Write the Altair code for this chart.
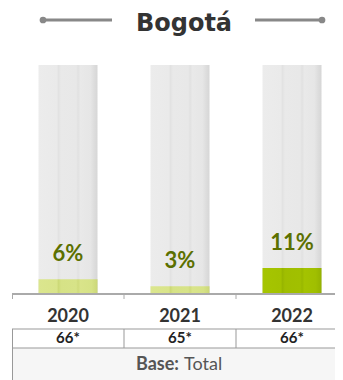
import altair as alt
import pandas as pd

# ---- data ----
years = ["2020", "2021", "2022"]
values = [6, 3, 11]
labels = ["6%", "3%", "11%"]
bases = ["66*", "65*", "66*"]
highlight = [False, False, True]
title_text = "Bogotá"

df = pd.DataFrame({"year": years, "value": values, "label": labels,
                   "base": bases, "hl": highlight, "full": [100] * 3})

W, H = 323, 228
SPAN = 336
FONT = "Lato"

x = alt.X("year:N", scale=alt.Scale(domain=years, range=[0, SPAN], paddingInner=0, paddingOuter=0),
          axis=None)
yscale = alt.Scale(domain=[0, 100])


def grad(stops):
    return alt.Gradient(gradient="linear", x1=0, x2=1, y1=0, y2=0,
                        stops=[alt.GradientStop(color=c, offset=o) for o, c in stops])


bg_grad = grad([(0, "#ececec"), (0.31, "#eaeaea"), (0.34, "#e2e2e2"), (0.38, "#e9e9e9"),
                (0.64, "#e8e8e8"), (0.67, "#e1e1e1"), (0.71, "#e9e9e9"), (0.88, "#e6e6e6"),
                (0.95, "#dcdcdc"), (1, "#d6d6d6")])
light_grad = grad([(0, "#dbe68e"), (0.31, "#d9e48a"), (0.34, "#ccd977"), (0.38, "#d6e286"),
                   (0.64, "#d7e388"), (0.67, "#cfdb7c"), (0.71, "#d9e48a"), (0.9, "#d6e286"),
                   (1, "#cbd777")])
dark_grad = grad([(0, "#a6c500"), (0.31, "#a3c200"), (0.34, "#97b500"), (0.38, "#a0be00"),
                  (0.64, "#a1c000"), (0.67, "#99b800"), (0.71, "#a4c300"), (0.9, "#a0bf00"),
                  (1, "#94b200")])

base = alt.Chart(df)

bg = base.mark_bar(size=59, color=bg_grad).encode(
    x=x, y=alt.Y("full:Q", scale=yscale, axis=None))
light = base.transform_filter("!datum.hl").mark_bar(size=59, color=light_grad).encode(
    x=x, y=alt.Y("value:Q", scale=yscale))
dark = base.transform_filter("datum.hl").mark_bar(size=59, color=dark_grad).encode(
    x=x, y=alt.Y("value:Q", scale=yscale))
lbl = base.mark_text(font=FONT, fontSize=22, fontWeight="bold", color="#5b7000",
                     baseline="middle", dy=-25).encode(
    x=x, y=alt.Y("value:Q", scale=yscale), text="label:N")

# title with decorative lines
deco = pd.DataFrame({"x1": [31, 243], "x2": [100, 310]})
dots = pd.DataFrame({"x": [31, 310]})
title = alt.Chart(pd.DataFrame({"t": [title_text]})).mark_text(
    font="DejaVu Sans", fontSize=24, fontWeight="bold", color="#333333", baseline="alphabetic").encode(
    x=alt.value(172), y=alt.value(-34), text="t:N")
deco_lines = alt.Chart(deco).mark_rule(color="#888888", strokeWidth=3).encode(
    x=alt.X("x1:Q", scale=None), x2="x2:Q", y=alt.value(-45))
deco_dots = alt.Chart(dots).mark_circle(color="#888888", size=45, opacity=1).encode(
    x=alt.X("x:Q", scale=None), y=alt.value(-45))

# axis line and ticks
axis_line = alt.Chart(pd.DataFrame({"a": [0]})).mark_rule(color="#aaaaaa", strokeWidth=2).encode(
    x=alt.value(0), x2=alt.value(SPAN), y=alt.value(H + 1))
tick_df = pd.DataFrame({"tx": [0.5, 112, 224]})
ticks = alt.Chart(tick_df).mark_rule(color="#aaaaaa", strokeWidth=1).encode(
    x=alt.X("tx:Q", scale=None), y=alt.value(H + 1), y2=alt.value(H + 6))

# table
year_txt = base.mark_text(font=FONT, fontSize=18, fontWeight="bold", color="#333333",
                          baseline="middle").encode(x=x, y=alt.value(252), text="year:N")
base_txt = base.mark_text(font=FONT, fontSize=15, fontWeight="bold", color="#222222",
                          baseline="middle").encode(x=x, y=alt.value(273), text="base:N")
base_row = alt.Chart(pd.DataFrame({"a": [0]})).mark_rect(color="#f6f6f6").encode(
    x=alt.value(0), x2=alt.value(SPAN), y=alt.value(283), y2=alt.value(320))
hlines = alt.Chart(pd.DataFrame({"hy": [264, 283]})).mark_rule(color="#999999", strokeWidth=1).encode(
    x=alt.value(0), x2=alt.value(SPAN), y=alt.Y("hy:Q", scale=None))
vlines = alt.Chart(pd.DataFrame({"vx": [0.5, 112, 224]})).mark_rule(color="#999999", strokeWidth=1).encode(
    x=alt.X("vx:Q", scale=None), y=alt.value(264), y2=alt.value(283))
vline_base = alt.Chart(pd.DataFrame({"a": [0]})).mark_rule(color="#999999", strokeWidth=1).encode(
    x=alt.value(0.5), y=alt.value(283), y2=alt.value(320))
base_bold = alt.Chart(pd.DataFrame({"t": ["Base:"]})).mark_text(
    font=FONT, fontSize=18, fontWeight="bold", color="#555555", align="right", baseline="middle").encode(
    x=alt.value(167), y=alt.value(300), text="t:N")
base_norm = alt.Chart(pd.DataFrame({"t": ["Total"]})).mark_text(
    font=FONT, fontSize=18, color="#555555", align="left", baseline="middle").encode(
    x=alt.value(172), y=alt.value(300), text="t:N")

chart = alt.layer(
    bg, light, dark, lbl, title, deco_lines, deco_dots, axis_line, ticks,
    base_row, year_txt, base_txt, hlines, vlines, vline_base, base_bold, base_norm
).properties(
    width=W, height=H,
    background="white",
    autosize=alt.AutoSizeParams(type="none"),
    padding={"left": 4, "top": 57, "right": 0, "bottom": 87},
).configure_view(stroke=None)

chart.save("out.html", embed_options={"renderer": "svg", "actions": False})
